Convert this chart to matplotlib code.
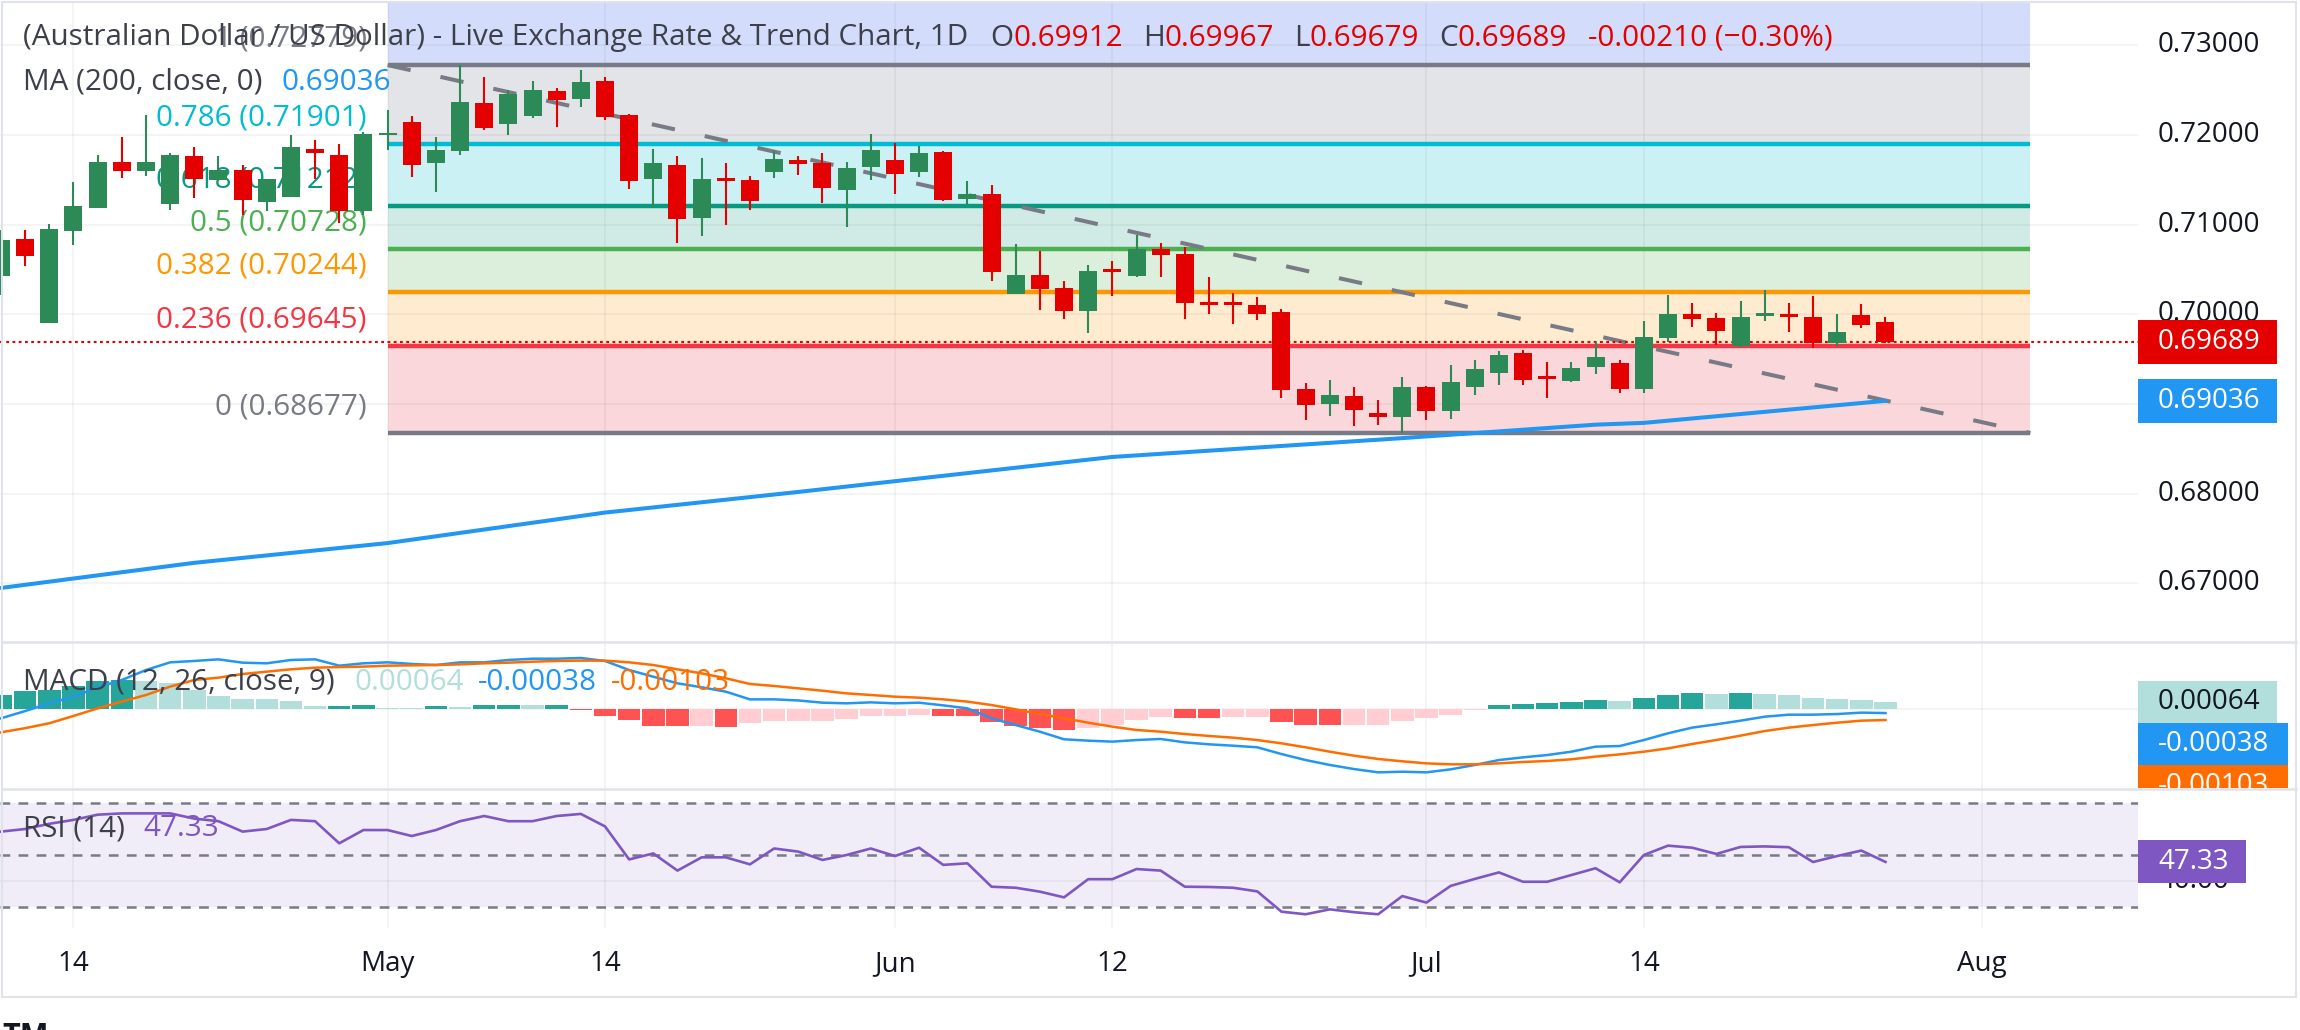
import matplotlib
matplotlib.use('Agg')
import matplotlib.pyplot as plt
from matplotlib.patches import Rectangle
from matplotlib.lines import Line2D
import numpy as np

plt.rcParams['font.family'] = ['Open Sans', 'DejaVu Sans']
plt.rcParams['lines.scale_dashes'] = False

# ---------------- data ----------------
opens = [0.70427, 0.70839, 0.69906, 0.70928, 0.71188, 0.71697, 0.71601, 0.71229, 0.71764, 0.71497,
         0.71608, 0.71252, 0.71307, 0.71842, 0.71775, 0.71151, 0.71995, 0.72143, 0.71686, 0.71820,
         0.72355, 0.72121, 0.72210, 0.72489, 0.72400, 0.72600, 0.72221, 0.71508, 0.71664, 0.71073,
         0.71508, 0.71497, 0.71586, 0.71720, 0.71686, 0.71385, 0.71642, 0.71720, 0.71586, 0.71809,
         0.71285, 0.71341, 0.70226, 0.70438, 0.70293, 0.70036, 0.70493, 0.70427, 0.70728, 0.70672,
         0.70137, 0.70126, 0.70103, 0.70025, 0.69167, 0.69000, 0.69089, 0.68899, 0.68855, 0.69189,
         0.68925, 0.69189, 0.69345, 0.69568, 0.69301, 0.69256, 0.69412, 0.69457, 0.69167, 0.69735,
         0.70003, 0.69958, 0.69646, 0.69981, 0.69992, 0.69969, 0.69680, 0.69992, 0.69912]
highs = [0.70939, 0.70939, 0.71006, 0.71474, 0.71775, 0.71976, 0.72221, 0.71798, 0.71865, 0.71764,
         0.71664, 0.71508, 0.71998, 0.71943, 0.71898, 0.72032, 0.72277, 0.72210, 0.71976, 0.72779,
         0.72645, 0.72500, 0.72600, 0.72522, 0.72723, 0.72645, 0.72233, 0.71842, 0.71764, 0.71742,
         0.71686, 0.71541, 0.71820, 0.71764, 0.71798, 0.71697, 0.72010, 0.71909, 0.71876, 0.71820,
         0.71486, 0.71441, 0.70783, 0.70705, 0.70371, 0.70549, 0.70594, 0.70884, 0.70794, 0.70750,
         0.70415, 0.70237, 0.70192, 0.70059, 0.69234, 0.69267, 0.69189, 0.69044, 0.69301, 0.69200,
         0.69434, 0.69490, 0.69590, 0.69602, 0.69468, 0.69468, 0.69691, 0.69490, 0.69925, 0.70215,
         0.70126, 0.70014, 0.70148, 0.70270, 0.70126, 0.70204, 0.70003, 0.70114, 0.69967]
lows = [0.70215, 0.70538, 0.69906, 0.70772, 0.71188, 0.71519, 0.71541, 0.71162, 0.71296, 0.71489,
        0.71107, 0.71151, 0.71307, 0.71508, 0.71017, 0.71107, 0.71831, 0.71530, 0.71363, 0.71775,
        0.72054, 0.71998, 0.72188, 0.72088, 0.72311, 0.72166, 0.71396, 0.71185, 0.70794, 0.70872,
        0.70995, 0.71162, 0.71519, 0.71552, 0.71240, 0.70973, 0.71497, 0.71341, 0.71530, 0.71263,
        0.71229, 0.70371, 0.70226, 0.70048, 0.69947, 0.69791, 0.70204, 0.70415, 0.70415, 0.69947,
        0.70003, 0.69891, 0.69936, 0.69066, 0.68821, 0.68866, 0.68754, 0.68765, 0.68677, 0.68821,
        0.68832, 0.69100, 0.69211, 0.69211, 0.69066, 0.69245, 0.69334, 0.69122, 0.69122, 0.69691,
        0.69858, 0.69657, 0.69635, 0.69925, 0.69802, 0.69624, 0.69646, 0.69847, 0.69679]
closes = [0.70828, 0.70653, 0.70951, 0.71207, 0.71697, 0.71601, 0.71697, 0.71775, 0.71508, 0.71608,
          0.71274, 0.71508, 0.71865, 0.71798, 0.71151, 0.72010, 0.72017, 0.71664, 0.71831, 0.72366,
          0.72076, 0.72455, 0.72500, 0.72389, 0.72589, 0.72199, 0.71486, 0.71686, 0.71062, 0.71508,
          0.71486, 0.71263, 0.71731, 0.71675, 0.71408, 0.71631, 0.71831, 0.71564, 0.71798, 0.71274,
          0.71341, 0.70471, 0.70438, 0.70282, 0.70036, 0.70482, 0.70471, 0.70728, 0.70661, 0.70126,
          0.70103, 0.70103, 0.70003, 0.69156, 0.68988, 0.69100, 0.68933, 0.68858, 0.69189, 0.68925,
          0.69245, 0.69390, 0.69546, 0.69267, 0.69278, 0.69401, 0.69524, 0.69167, 0.69747, 0.70003,
          0.69947, 0.69813, 0.69969, 0.70003, 0.69973, 0.69680, 0.69802, 0.69880, 0.69689]

ma_bars = [0, 8, 16, 25, 33, 46, 58, 66, 68, 78]
ma_vals = [0.6695, 0.6723, 0.6745, 0.6779, 0.6802, 0.6841, 0.6862, 0.6877, 0.6879, 0.69036]

macd_line = [-0.00087, -0.00019, 0.00053, 0.00115, 0.00202, 0.00271, 0.00364, 0.00436, 0.00449, 0.00464,
             0.00433, 0.00427, 0.00458, 0.00464, 0.00405, 0.00427, 0.00436, 0.00421, 0.00411, 0.00436,
             0.00436, 0.00458, 0.00470, 0.00470, 0.00477, 0.00449, 0.00364, 0.00302, 0.00240, 0.00203,
             0.00162, 0.00090, 0.00090, 0.00080, 0.00059, 0.00053, 0.00062, 0.00053, 0.00059, 0.00034,
             0.00006, -0.00087, -0.00150, -0.00212, -0.00283, -0.00296, -0.00305, -0.00290, -0.00280, -0.00312,
             -0.00330, -0.00343, -0.00358, -0.00421, -0.00477, -0.00523, -0.00561, -0.00592, -0.00586, -0.00592,
             -0.00564, -0.00523, -0.00477, -0.00452, -0.00430, -0.00399, -0.00352, -0.00346, -0.00290, -0.00227,
             -0.00174, -0.00143, -0.00109, -0.00072, -0.00053, -0.00053, -0.00047, -0.00034, -0.00038]
signal_line = [-0.00218, -0.00179, -0.00133, -0.00065, 0.00006, 0.00069, 0.00131, 0.00209, 0.00271, 0.00293,
               0.00327, 0.00349, 0.00371, 0.00386, 0.00392, 0.00396, 0.00405, 0.00408, 0.00411, 0.00417,
               0.00427, 0.00433, 0.00442, 0.00449, 0.00452, 0.00452, 0.00436, 0.00411, 0.00371, 0.00333,
               0.00287, 0.00234, 0.00215, 0.00193, 0.00171, 0.00146, 0.00131, 0.00115, 0.00106, 0.00090,
               0.00069, 0.00037, -0.00003, -0.00047, -0.00087, -0.00128, -0.00165, -0.00196, -0.00212, -0.00234,
               -0.00252, -0.00268, -0.00290, -0.00321, -0.00358, -0.00399, -0.00436, -0.00467, -0.00489, -0.00508,
               -0.00517, -0.00517, -0.00508, -0.00495, -0.00486, -0.00470, -0.00445, -0.00424, -0.00399, -0.00368,
               -0.00327, -0.00290, -0.00249, -0.00206, -0.00174, -0.00150, -0.00128, -0.00109, -0.00103]
macd_hist = [0.00134, 0.00171, 0.00173, 0.00218, 0.00265, 0.00274, 0.00265, 0.00243, 0.00181, 0.00125,
             0.00097, 0.00095, 0.00078, 0.00025, 0.00031, 0.00040, 0.00012, 0.00011, 0.00025, 0.00023,
             0.00034, 0.00040, 0.00034, 0.00035, -0.00006, -0.00069, -0.00106, -0.00162, -0.00163, -0.00160,
             -0.00165, -0.00131, -0.00115, -0.00114, -0.00113, -0.00093, -0.00069, -0.00068, -0.00053, -0.00069,
             -0.00070, -0.00125, -0.00162, -0.00181, -0.00199, -0.00178, -0.00146, -0.00106, -0.00078, -0.00087,
             -0.00088, -0.00078, -0.00077, -0.00125, -0.00153, -0.00154, -0.00152, -0.00146, -0.00109, -0.00087,
             -0.00053, -0.00012, 0.00040, 0.00047, 0.00056, 0.00069, 0.00087, 0.00078, 0.00103, 0.00134,
             0.00150, 0.00140, 0.00146, 0.00143, 0.00134, 0.00106, 0.00097, 0.00087, 0.00064]

rsi = [59.0, 60.0, 62.0, 63.5, 65.5, 66.0, 66.0, 66.0, 64.0, 63.0,
       59.0, 60.0, 63.5, 63.0, 54.5, 59.6, 59.6, 57.3, 59.6, 63.0,
       65.0, 63.0, 63.0, 65.0, 65.8, 61.0, 48.3, 50.6, 44.0, 49.1,
       49.1, 46.4, 52.5, 51.3, 48.1, 50.0, 52.5, 49.6, 52.8, 46.2,
       46.8, 37.8, 37.4, 35.9, 33.7, 40.7, 40.7, 44.6, 44.0, 37.8,
       37.7, 37.4, 36.0, 28.2, 27.2, 29.1, 28.0, 27.2, 34.2, 31.7,
       38.1, 40.8, 43.3, 39.7, 39.7, 42.3, 44.9, 39.5, 50.0, 53.6,
       52.8, 50.4, 53.1, 53.3, 53.0, 47.3, 49.6, 51.7, 47.33]

fib_ratios = [1, 0.786, 0.618, 0.5, 0.382, 0.236, 0]
fib_prices = [0.72779, 0.71901, 0.71212, 0.70728, 0.70244, 0.69645, 0.68677]
fib_start, fib_end = 16, 84

date_bars = [3, 16, 25, 37, 46, 59, 68, 82]
date_labels = ['14', 'May', '14', 'Jun', '12', 'Jul', '14', 'Aug']
price_ticks = [0.73, 0.72, 0.71, 0.70, 0.69, 0.68, 0.67]

# ---------------- styles ----------------
GREEN, RED = '#2b8a56', '#e50000'
TXT = '#3d404b'
fib_colors = ['#787b86', '#00bcd4', '#089981', '#4caf50', '#ff9800', '#f23645', '#787b86']
fib_fills = ['#e3e4e7', '#ccf1f5', '#d0ebe6', '#dcefdc', '#ffebcf', '#fad7db']
FS = 20       # scale / time labels
FSL = 21.3    # legends and fib labels

W, H = 2300, 1030
PR = 2138                      # right edge of the panes, px
XL, XR = -1 / 24.16, (PR - 1) / 24.16

fig = plt.figure(figsize=(W / 100, H / 100), dpi=100)
fig.patch.set_facecolor('white')
renderer = fig.canvas.get_renderer()


def px_axes(x0, y0, x1, y1):
    ax = fig.add_axes([x0 / W, 1 - y1 / H, (x1 - x0) / W, (y1 - y0) / H])
    ax.set_axis_off()
    return ax


def chain(x, y, parts):
    # legend line: segments placed one after another, (text, colour, gap before in px)
    for s, color, gap in parts:
        x += gap
        t = fig.text(x / W, 1 - y / H, s, color=color, fontsize=FSL, va='center', ha='left')
        x = t.get_window_extent(renderer).x1


def vgrid(ax):
    for b in date_bars:
        ax.axvline(b, color='#2a2e39', alpha=0.06, lw=1.2, zorder=1.5)


x = np.arange(len(opens))
o, h, l, c = (np.array(v) for v in (opens, highs, lows, closes))
col = np.where(c >= o, GREEN, RED)

# ================= price pane =================
P_LO, P_HI = 0.663585, 0.734816
ax_p = px_axes(0, 2, PR, 641)
ax_p.set_xlim(XL, XR)
ax_p.set_ylim(P_LO, P_HI)
vgrid(ax_p)
for t in price_ticks:
    ax_p.axhline(t, color='#2a2e39', alpha=0.06, lw=1.2, zorder=1.5)

# fib retracement zones
ax_p.fill_between([fib_start, fib_end], fib_prices[0], 0.75, color='#d3ddfb', lw=0, zorder=1)
for k in range(6):
    ax_p.fill_between([fib_start, fib_end], fib_prices[k + 1], fib_prices[k],
                      color=fib_fills[k], lw=0, zorder=1)
ax_p.hlines(fib_prices, fib_start, fib_end, colors=fib_colors, lw=3.2, zorder=2)
for r, p, fc in zip(fib_ratios, fib_prices, fib_colors):
    ax_p.annotate(f'{r:g} ({p:.5f})', xy=(fib_start, p), xytext=(-21, 26),
                  textcoords='offset pixels', ha='right', va='center',
                  color=fc, fontsize=FSL, zorder=2.2)

# trend line of the fib tool
ax_p.plot([fib_start, fib_end], [fib_prices[0], fib_prices[-1]], color='#787b86',
          lw=2.9, dashes=(17, 22), zorder=2.5, solid_capstyle='butt', dash_capstyle='butt')

# MA 200
ax_p.plot(ma_bars, ma_vals, color='#2196f3', lw=2.9, zorder=2.6, solid_capstyle='round')

# last price line
ax_p.axhline(closes[-1], color=RED, lw=1.5, dashes=(2, 2.5), zorder=2.7)

# candles
ax_p.vlines(x, l, h, colors=col, lw=1.5, zorder=3)
body_lo = np.minimum(o, c)
body_h = np.maximum(np.abs(c - o), 0.0003)
ax_p.bar(x, body_h, bottom=body_lo, width=0.745, color=col, lw=0, zorder=3.1)

# ================= MACD pane =================
M_LO, M_HI = -0.007383, 0.006168
ax_m = px_axes(0, 643, PR, 788)
ax_m.set_xlim(XL, XR)
ax_m.set_ylim(M_LO, M_HI)
vgrid(ax_m)
ax_m.axhline(0, color='#2a2e39', alpha=0.06, lw=1.2, zorder=1.5)
hist = np.array(macd_hist)
prev = np.concatenate([[hist[0] - 1], hist[:-1]])
hcol = np.where(hist >= 0, np.where(hist >= prev, '#26a69a', '#b2dfdb'),
                np.where(hist <= prev, '#ff5252', '#ffcdd2'))
ax_m.bar(x, hist, width=0.93, color=hcol, lw=0, zorder=2)
ax_m.plot(x, macd_line, color='#2196f3', lw=1.8, zorder=3)
ax_m.plot(x, signal_line, color='#ff6d00', lw=1.8, zorder=3)

# ================= RSI pane =================
R_LO, R_HI = 21.92, 75.0
ax_r = px_axes(0, 790, PR, 928)
ax_r.set_xlim(XL, XR)
ax_r.set_ylim(R_LO, R_HI)
vgrid(ax_r)
ax_r.axhspan(30, 70, color='#7e57c2', alpha=0.1, lw=0, zorder=1)
ax_r.axhline(40, color='#2a2e39', alpha=0.06, lw=1.2, zorder=1.5)
for lv in (70, 50, 30):
    ax_r.axhline(lv, color='#787b86', lw=1.8, dashes=(7, 6), zorder=2)
ax_r.plot(x, rsi, color='#7e57c2', lw=1.9, zorder=3)

# ================= time axis =================
ax_t = px_axes(0, 928, PR, 997)
ax_t.set_xlim(XL, XR)
ax_t.set_ylim(0, 1)
for b, s in zip(date_bars, date_labels):
    ax_t.text(b, 0.48, s, ha='center', va='center', color='#131722', fontsize=FS)

# ================= right scales =================
SW = W - PR


def tag(ax, y, text, fc, tc, w, hgt):
    ax.add_patch(Rectangle((0, y - hgt / 2), w, hgt, facecolor=fc, edgecolor='none', zorder=5))
    ax.text(20, y, text, color=tc, fontsize=FS, va='center', ha='left', zorder=6, clip_on=True)


ax_ps = px_axes(PR, 2, W, 641)
ax_ps.set_xlim(0, SW)
ax_ps.set_ylim(P_LO, P_HI)
for t in price_ticks:
    ax_ps.text(20, t, f'{t:.5f}', color='#131722', fontsize=FS, va='center', ha='left', zorder=2)
tag(ax_ps, closes[-1], f'{closes[-1]:.5f}', RED, 'white', 139, 44 / 8971)
tag(ax_ps, ma_vals[-1], f'{ma_vals[-1]:.5f}', '#2196f3', 'white', 139, 44 / 8971)

ax_ms = px_axes(PR, 643, W, 788)
ax_ms.set_xlim(0, SW)
ax_ms.set_ylim(M_LO, M_HI)
mh = 42 / 10700
tag(ax_ms, macd_hist[-1], f'{macd_hist[-1]:.5f}', '#b2dfdb', '#131722', 139, mh)
tag(ax_ms, macd_hist[-1] - mh, f'{macd_line[-1]:.5f}', '#2196f3', 'white', 150, mh)
tag(ax_ms, macd_hist[-1] - 2 * mh, f'{signal_line[-1]:.5f}', '#ff6d00', 'white', 150, mh)

ax_rs = px_axes(PR, 790, W, 928)
ax_rs.set_xlim(0, SW)
ax_rs.set_ylim(R_LO, R_HI)
ax_rs.text(20, 40, '40.00', color='#131722', fontsize=FS, va='center', ha='left', zorder=2)
tag(ax_rs, rsi[-1], f'{rsi[-1]:.2f}', '#7e57c2', 'white', 108, 43 / 2.6)

# ================= legends =================
chain(23, 38, [('(Australian Dollar / US Dollar) - Live Exchange Rate & Trend Chart, 1D', TXT, 0),
               ('O', TXT, 22), (f'{opens[-1]:.5f}', RED, 0),
               ('H', TXT, 20), (f'{highs[-1]:.5f}', RED, 0),
               ('L', TXT, 20), (f'{lows[-1]:.5f}', RED, 0),
               ('C', TXT, 20), (f'{closes[-1]:.5f}', RED, 0),
               ('-0.00210 (\u22120.30%)', RED, 21)])
chain(23, 82, [('MA (200, close, 0)', TXT, 0), (f'{ma_vals[-1]:.5f}', '#2196f3', 19)])
chain(23, 682, [('MACD (12, 26, close, 9)', TXT, 0),
                (f'{macd_hist[-1]:.5f}', '#b2dfdb', 20),
                (f'{macd_line[-1]:.5f}', '#2196f3', 14),
                (f'{signal_line[-1]:.5f}', '#ff6d00', 14)])
chain(23, 829, [('RSI (14)', TXT, 0), (f'{rsi[-1]:.2f}', '#7e57c2', 19)])

# frame and pane separators
sep = '#e0e3eb'
fig.add_artist(Rectangle((2 / W, 1 - 997 / H), 2294 / W, 995 / H, transform=fig.transFigure,
                         fill=False, edgecolor=sep, lw=1.5))
for yy in (642, 789):
    fig.add_artist(Line2D([2 / W, 2296 / W], [1 - yy / H] * 2, color=sep, lw=1.8))

# cropped logo at the very bottom edge
fig.text(2 / W, 1 - 1022 / H, 'TM', color='#131722', fontsize=22, fontweight='bold',
         va='top', ha='left')

fig.savefig('out.png', dpi=100, facecolor='white')
